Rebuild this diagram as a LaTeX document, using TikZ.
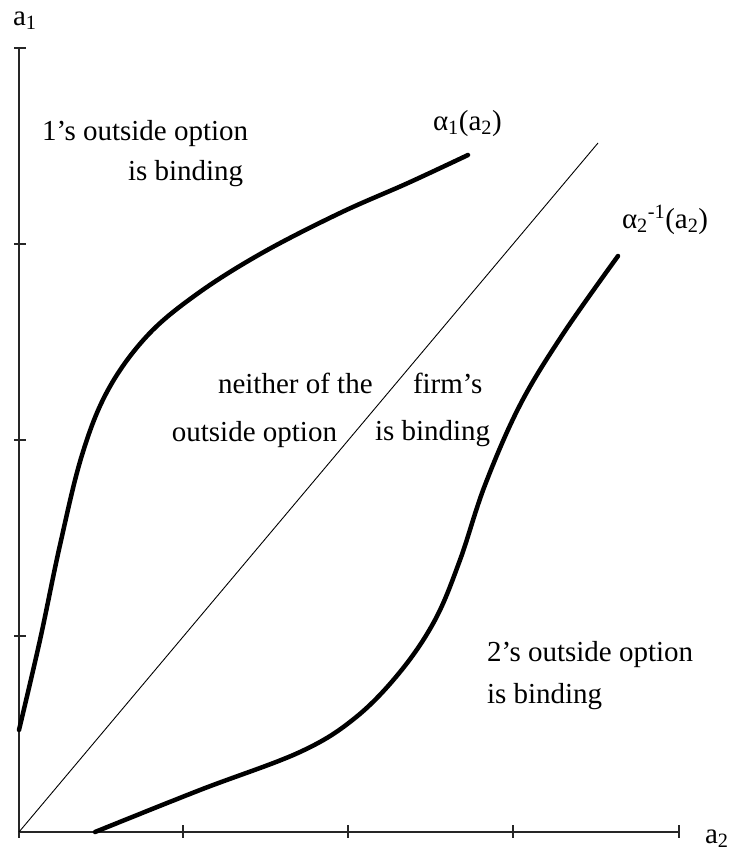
\documentclass[tikz,border=0pt]{standalone}
\usepackage{fontspec}
\setmainfont{Liberation Serif}
\begin{document}
\begin{tikzpicture}[x=1pt,y=-1pt,
  axis/.style={line width=1.4pt,draw=black!85},
  tick/.style={line width=1.2pt,draw=black!85},
  curve/.style={line width=4.5pt,line cap=round,line join=round},
  diag/.style={line width=0.9pt},
  lbl/.style={anchor=base west,inner sep=0pt,outer sep=0pt,font=\fontsize{29}{35}\selectfont}]
\useasboundingbox (0,0) rectangle (731,852);
% axes
\coordinate (O) at (19,832);
\coordinate (Ytop) at (19,48);
\coordinate (Xend) at (679,832);
\draw[axis] (Ytop) -- (O) -- (Xend);
% ticks y
\foreach \yy in {48,244,440,636}{\draw[tick] (14,\yy) -- (26,\yy);}
\draw[tick] (19,826) -- (19,838);
% ticks x
\foreach \xx in {183,348,513,679}{\draw[tick] (\xx,825) -- (\xx,838);}
% diagonal
\coordinate (D) at (598,143);
\draw[diag] (O) -- (D);
% curve alpha1
\draw[curve] plot[smooth,tension=0.6] coordinates {(19,730) (40,640) (60,545) (82,455) (108,390) (147,336) (197,294) (262,253) (340,213) (408,183) (468,155)};
% curve alpha2 inverse
\draw[curve] plot[smooth,tension=0.6] coordinates {(95,832) (200,790) (300,752) (355,718) (400,672) (435,620) (460,560) (485,485) (520,405) (563,334) (618,256)};
% labels
\node[lbl] (a1) at (13,25) {a\textsubscript{1}};
\node[lbl] (a2) at (705,843) {a\textsubscript{2}};
\node[lbl] (al1) at (433,130) {α\textsubscript{1}(a\textsubscript{2})};
\node[lbl] (al2) at (622,228) {α\textsubscript{2}\textsuperscript{-1}(a\textsubscript{2})};
\node[lbl] (t1a) at (42,140) {1’s outside option};
\node[lbl] (t1b) at (128,180) {is binding};
\node[lbl] (t2a) at (218,393) {neither of the};
\node[lbl,anchor=base east] (t2b) at (337,441) {outside option};
\node[lbl] (t3a) at (413,393) {firm’s};
\node[lbl] (t3b) at (375,440) {is binding};
\node[lbl] (t4a) at (487,661) {2’s outside option};
\node[lbl] (t4b) at (487,703) {is binding};
\end{tikzpicture}
\end{document}
